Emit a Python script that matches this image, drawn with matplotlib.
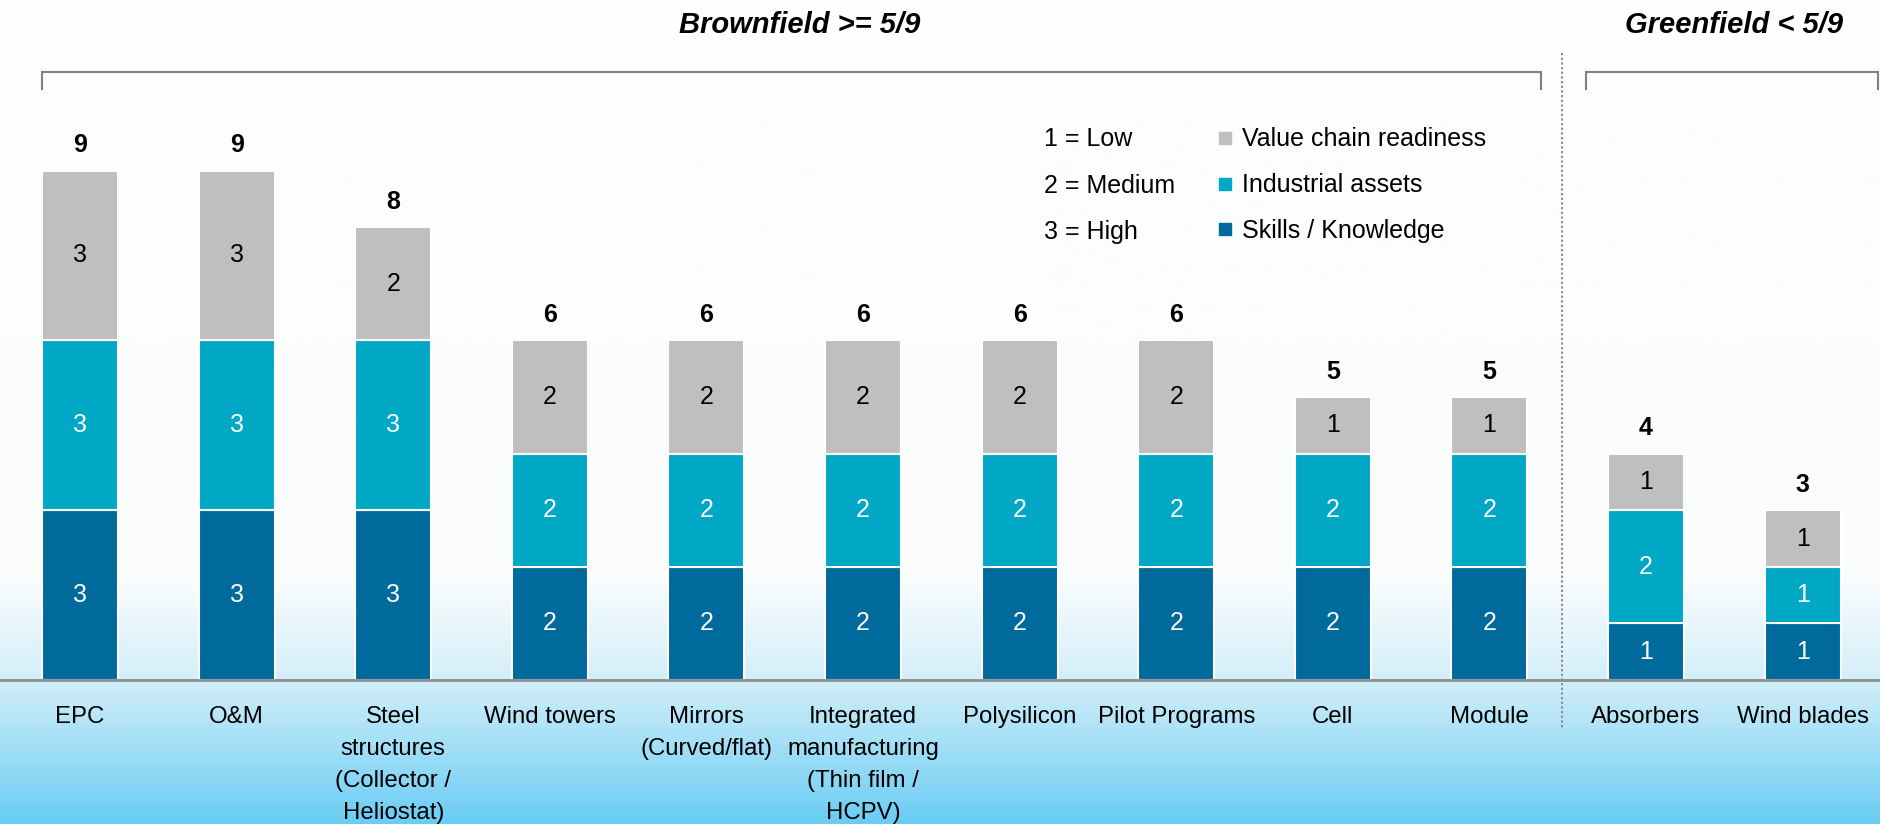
import numpy as np
import matplotlib
matplotlib.use('Agg')
import matplotlib.pyplot as plt
from matplotlib.colors import LinearSegmentedColormap
from matplotlib.lines import Line2D

categories = ['EPC', 'O&M', 'Steel\nstructures\n(Collector /\nHeliostat)', 'Wind towers',
              'Mirrors\n(Curved/flat)', 'Integrated\nmanufacturing\n(Thin film /\nHCPV)',
              'Polysilicon', 'Pilot Programs', 'Cell', 'Module', 'Absorbers', 'Wind blades']
skills = [3, 3, 3, 2, 2, 2, 2, 2, 2, 2, 1, 1]
assets = [3, 3, 3, 2, 2, 2, 2, 2, 2, 2, 2, 1]
value_chain = [3, 3, 2, 2, 2, 2, 2, 2, 1, 1, 1, 1]
series_names = ['Skills / Knowledge', 'Industrial assets', 'Value chain readiness']
scale_labels = ['1 = Low', '2 = Medium', '3 = High']

COLORS = ['#006A9C', '#00A8C6', '#BFBFBF']
TEXT_COLORS = ['white', 'white', 'black']
W, H = 1881, 824


def draw():
    plt.rcParams['font.family'] = ['Liberation Sans', 'DejaVu Sans']
    fig = plt.figure(figsize=(W / 100, H / 100), dpi=100)
    ax = fig.add_axes([0, 0, 1, 1])

    # pixel geometry of the reference: 156.6 px per category, 56.6 px per unit, baseline at y=680
    xstep, ystep, x0, base = 156.6, 56.6, 80, 680
    xlim = (-x0 / xstep, (W - x0) / xstep)
    ylim = (-(H - base) / ystep, base / ystep)
    ax.set_xlim(*xlim)
    ax.set_ylim(*ylim)
    ax.axis('off')

    def px_y(y):
        return (base - y) / ystep

    def px_x(x):
        return (x - x0) / xstep

    # background gradient (white at top -> light blue at bottom)
    cmap = LinearSegmentedColormap.from_list('bg', [
        (0.0, '#ffffff'), (0.13, '#fdfdfd'), (0.70, '#fbfdfe'),
        (0.825, '#d3eff9'), (1.0, '#6ccdf4')])
    grad = np.linspace(0, 1, 400).reshape(-1, 1)
    ax.imshow(grad, cmap=cmap, aspect='auto', extent=(*xlim, *ylim),
              origin='upper', zorder=0)

    x = np.arange(len(categories))
    bottom = np.zeros(len(categories))
    for vals, color, tcol in zip([skills, assets, value_chain], COLORS, TEXT_COLORS):
        vals = np.array(vals)
        ax.bar(x, vals, bottom=bottom, width=0.485, color=color, edgecolor='white',
               linewidth=1.5, zorder=2)
        for xi, b, v in zip(x, bottom, vals):
            ax.text(xi, b + v / 2, str(v), ha='center', va='center', color=tcol,
                    fontsize=18, zorder=3)
        bottom = bottom + vals

    for xi, t in zip(x, bottom):
        ax.text(xi, t + 0.45, str(int(t)), ha='center', va='center', fontsize=18,
                fontweight='bold', zorder=3)

    # category labels
    for xi, lab in zip(x, categories):
        ax.text(xi, px_y(706), lab, ha='center', va='top', fontsize=17.3,
                linespacing=1.58, zorder=3)

    # baseline
    ax.axhline(0, color='#8c8c8c', lw=2, zorder=3)

    # divider between groups
    ax.plot([px_x(1562)] * 2, [px_y(53), px_y(730)], color='#8c8c8c', lw=1.4,
            ls=(0, (1.2, 1.2)), zorder=1)

    # group brackets
    for xa, xb in [(42, 1541), (1586, 1878)]:
        ax.plot([px_x(xa), px_x(xa), px_x(xb), px_x(xb)],
                [px_y(89), px_y(72), px_y(72), px_y(89)], color='#808080', lw=1.5,
                solid_joinstyle='miter', zorder=3)

    ax.text(px_x(800), px_y(25), 'Brownfield >= 5/9', ha='center', va='center',
            fontsize=21, fontweight='bold', fontstyle='italic')
    ax.text(px_x(1734), px_y(25), 'Greenfield < 5/9', ha='center', va='center',
            fontsize=21, fontweight='bold', fontstyle='italic')

    # legend
    rows = [139, 186, 232]
    for lab, y in zip(scale_labels, rows):
        fig.text(1044 / W, 1 - y / H, lab, ha='left', va='center', fontsize=18)
    handles = [Line2D([], [], marker='s', ls='', color=c, markersize=9)
               for c in COLORS[::-1]]
    fig.legend(handles, series_names[::-1], loc='upper left',
               bbox_to_anchor=(1205 / W, 1 - 115 / H), frameon=False,
               fontsize=18, handlelength=0.6, handletextpad=0.4,
               labelspacing=0.87, borderpad=0)

    fig.savefig('out.png', dpi=100)


if __name__ == '__main__':
    draw()
